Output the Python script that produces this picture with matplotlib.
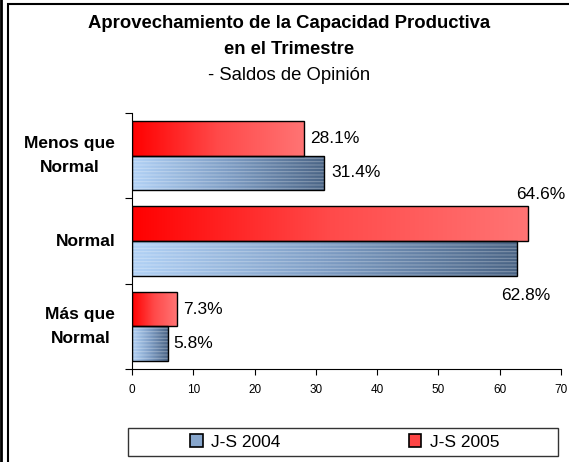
import matplotlib
matplotlib.use("Agg")
import matplotlib.pyplot as plt
import numpy as np
from matplotlib.colors import LinearSegmentedColormap
from matplotlib.patches import Rectangle, Patch
from matplotlib.lines import Line2D

# datos
categories = ["Menos que\nNormal", "Normal", "Más que\nNormal"]
series_names = ["J-S 2004", "J-S 2005"]
vals_2004 = [31.4, 62.8, 5.8]
vals_2005 = [28.1, 64.6, 7.3]
x_ticks = [0, 10, 20, 30, 40, 50, 60, 70]

plt.rcParams['font.family'] = ['Liberation Sans', 'DejaVu Sans']

W, H = 569, 462
fig = plt.figure(figsize=(W / 100, H / 100), dpi=100)
ax = fig.add_axes([132 / W, 1 - 369 / H, 429 / W, 256 / H])

blue_cmap = LinearSegmentedColormap.from_list("azul", ["#B2D2F6", "#7E9DC4", "#4A6485"])
red_cmap = LinearSegmentedColormap.from_list("rojo", ["#FF0000", "#FF4A4A", "#FF7474"])


def fill_gradient(ax, bars, cmap):
    # gradiente horizontal dentro de cada barra
    grad = np.linspace(0, 1, 256).reshape(1, -1)
    for b in bars:
        x0, y0 = b.get_x(), b.get_y()
        w, hh = b.get_width(), b.get_height()
        im = ax.imshow(grad, cmap=cmap, extent=(x0, x0 + w, y0, y0 + hh),
                       aspect='auto', interpolation='bilinear', zorder=2)
        im.set_clip_path(b)


ypos = np.arange(len(categories))[::-1]
h = 0.405

b04 = ax.barh(ypos - h / 2, vals_2004, height=h, facecolor='none',
              edgecolor='black', lw=1.0, zorder=4)
b05 = ax.barh(ypos + h / 2, vals_2005, height=h, facecolor='none',
              edgecolor='black', lw=1.0, zorder=4)
fill_gradient(ax, b04, blue_cmap)
fill_gradient(ax, b05, red_cmap)

# rayado claro sobre las barras azules
plt.rcParams['hatch.linewidth'] = 0.7
ax.barh(ypos - h / 2, vals_2004, height=h, facecolor='none',
        edgecolor=(1, 1, 1, 0.3), lw=0, hatch='-----', zorder=3)

# etiquetas de datos
offsets_04 = [(7, 0, 'left'), (9, -37, 'center'), (6, 0, 'left')]
offsets_05 = [(6, 0, 'left'), (13, 29, 'center'), (6, 0, 'left')]
for vals, yy, offs in [(vals_2004, ypos - h / 2, offsets_04),
                       (vals_2005, ypos + h / 2, offsets_05)]:
    for v, y, (dx, dy, ha) in zip(vals, yy, offs):
        ax.annotate(f"{v:.1f}%", xy=(v, y), xytext=(dx, dy),
                    textcoords='offset pixels', ha=ha, va='center',
                    fontsize=12.5, annotation_clip=False)

ax.set_xlim(0, 70)
ax.set_ylim(-0.5, len(categories) - 0.5)
ax.set_xticks(x_ticks)
ax.tick_params(axis='x', labelsize=8.5, length=4, width=0.8, pad=7)

ax.set_yticks(np.arange(-0.5, len(categories), 1.0))
ax.set_yticklabels([])
ax.tick_params(axis='y', which='major', length=5, width=0.8)
ax.set_yticks(ypos, minor=True)
ax.set_yticklabels(categories, minor=True, fontsize=12.5, fontweight='bold',
                   multialignment='center', linespacing=1.75)
plt.setp(ax.get_yticklabels(minor=True), va='center')
ax.tick_params(axis='y', which='minor', length=0, pad=12)

for s in ['top', 'right']:
    ax.spines[s].set_visible(False)
for s in ['left', 'bottom']:
    ax.spines[s].set_linewidth(0.8)

# titulo
fig.text(289 / W, 1 - 23 / H, "Aprovechamiento de la Capacidad Productiva",
         ha='center', va='center', fontsize=13.3, fontweight='bold')
fig.text(289 / W, 1 - 50 / H, "en el Trimestre",
         ha='center', va='center', fontsize=13.3, fontweight='bold')
fig.text(289 / W, 1 - 76 / H, "- Saldos de Opinión",
         ha='center', va='center', fontsize=13.3)

# leyenda
handles = [Patch(facecolor='#87A6CC', edgecolor='black', lw=1.2),
           Patch(facecolor='#FF4545', edgecolor='black', lw=1.2)]
fig.legend(handles, series_names, loc='center',
           bbox_to_anchor=(345 / W, 1 - 442 / H), ncol=2, frameon=False,
           fontsize=12.5, handlelength=0.7, handleheight=0.7,
           handletextpad=0.5, columnspacing=7.4)
fig.add_artist(Rectangle((128 / W, 1 - 456 / H), 430 / W, 28 / H,
                         transform=fig.transFigure, fill=False,
                         edgecolor='#333333', lw=1.0))

# marcos del grafico
fig.add_artist(Rectangle((8 / W, -0.05), 1.0, 1.05 - 4 / H,
                         transform=fig.transFigure, fill=False,
                         edgecolor='black', lw=1.5, clip_on=False))
fig.add_artist(Line2D([1 / W, 1 / W], [0, 1], transform=fig.transFigure,
                      color='black', lw=2))

fig.savefig("out.png", dpi=100)
